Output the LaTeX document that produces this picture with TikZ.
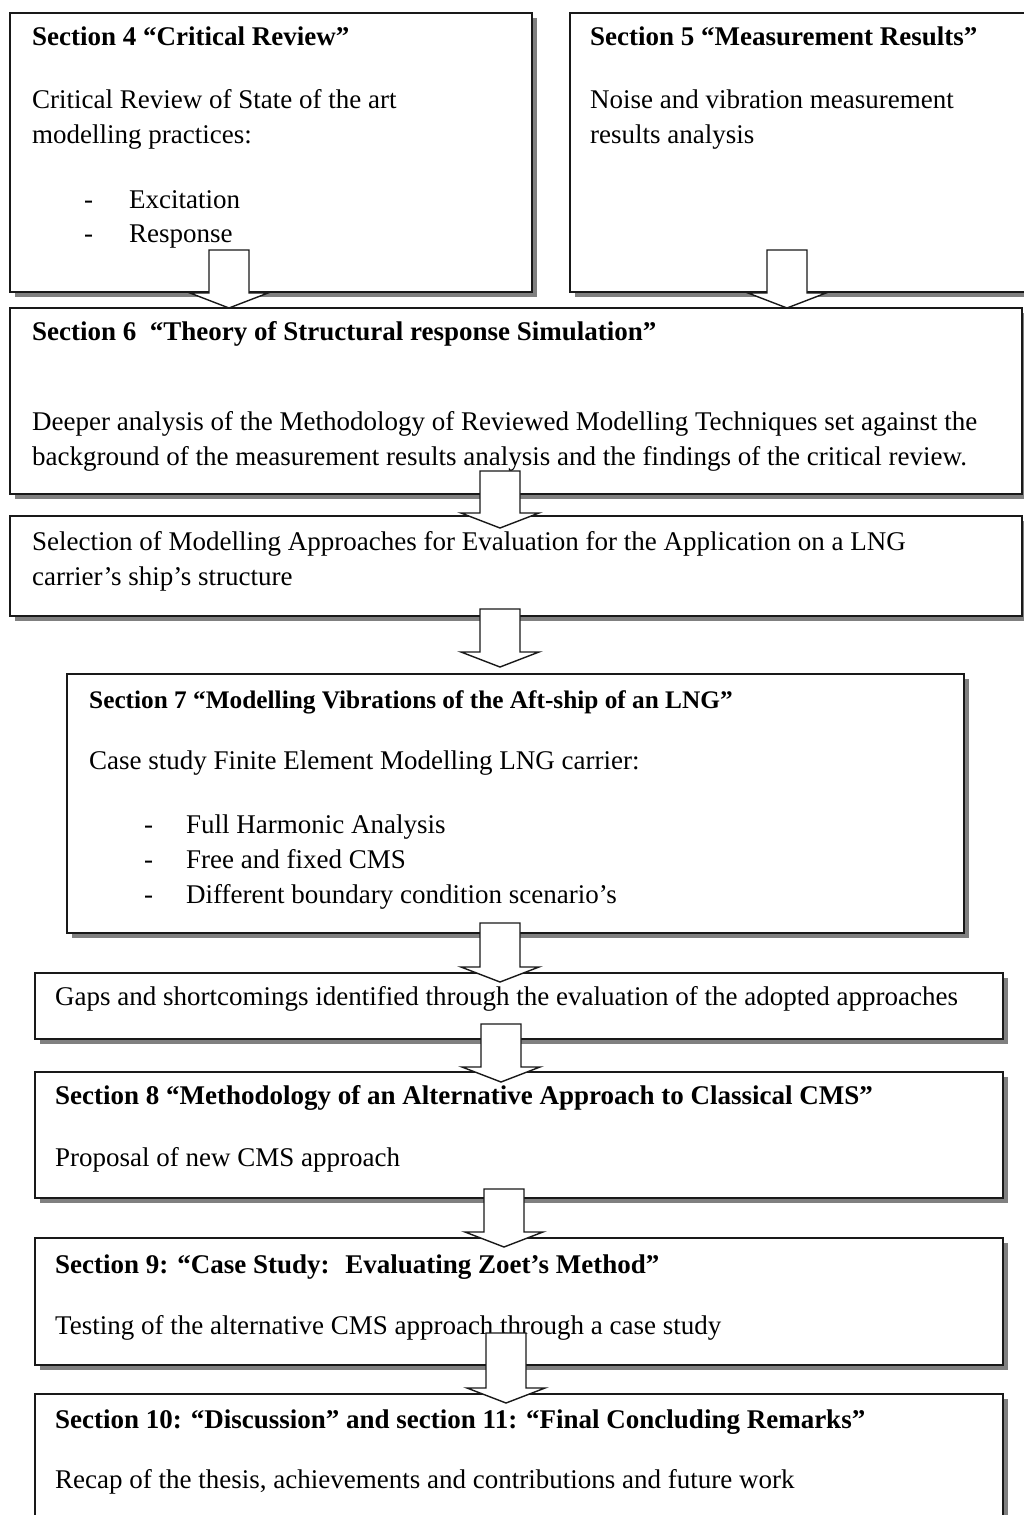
\documentclass[tikz,border=0pt]{standalone}
\usepackage{fontspec}
\setmainfont{Liberation Serif}
\usetikzlibrary{shadows,calc}
\begin{document}
\begin{tikzpicture}[x=1pt,y=-1pt,
  box/.style={draw=black!90, line width=1.6pt, fill=white, anchor=north west, inner sep=0pt,
    drop shadow={shadow xshift=5pt, shadow yshift=-5pt, fill=black!50, opacity=1}},
  txt/.style={anchor=base west, inner sep=0pt, font=\fontsize{27}{35}\selectfont},
  hd/.style={anchor=base west, inner sep=0pt, font=\fontsize{27}{35}\selectfont\bfseries},
  hdsmall/.style={anchor=base west, inner sep=0pt, font=\fontsize{25.3}{30}\selectfont\bfseries},
  blockarrow/.style={draw=black!90, line width=1.4pt, fill=white, line join=miter,
    to path={let \p1=(\tikztostart), \p2=(\tikztotarget) in
      (\x1-20pt,\y1) -- (\x1+20pt,\y1) -- (\x1+20pt,\y2+15pt) -- (\x1+39pt,\y2+15pt)
      -- (\x2,\y2) -- (\x1-39pt,\y2+15pt) -- (\x1-20pt,\y2+15pt) -- cycle}}
]
\fill[white] (0,0) rectangle (1023,1515);
\useasboundingbox (0,0) rectangle (1023,1515);

% boxes
\node[box, minimum width=522pt, minimum height=279pt] (b1) at (9,12) {};
\node[box, minimum width=462pt, minimum height=279pt] (b2) at (569,12) {};
\node[box, minimum width=1012pt, minimum height=186pt] (b3) at (9,307) {};
\node[box, minimum width=1012pt, minimum height=100pt] (b4) at (9,515) {};
\node[box, minimum width=897pt, minimum height=259pt] (b5) at (66,673) {};
\node[box, minimum width=968pt, minimum height=66pt] (b6) at (34,972) {};
\node[box, minimum width=968pt, minimum height=126pt] (b7) at (34,1071) {};
\node[box, minimum width=968pt, minimum height=127pt] (b8) at (34,1237) {};
\node[box, minimum width=968pt, minimum height=140pt] (b9) at (34,1393) {};

% texts
\node[hd] (t1h) at (32,45) {Section 4 “Critical Review”};
\node[txt] (t1a) at (32,108) {Critical Review of State of the art};
\node[txt] (t1b) at (32,143) {modelling practices:};
\node[txt] (t1c) at (84,208) {-};
\node[txt] (t1d) at (129,208) {Excitation};
\node[txt] (t1e) at (84,242) {-};
\node[txt] (t1f) at (129,242) {Response};

\node[hd] (t2h) at (590,45) {Section 5 “Measurement Results”};
\node[txt] (t2a) at (590,108) {Noise and vibration measurement};
\node[txt] (t2b) at (590,143) {results analysis};

\node[hd] (t3h) at (32,340) {Section 6 \ “Theory of Structural response Simulation”};
\node[txt] (t3a) at (32,430) {Deeper analysis of the Methodology of Reviewed Modelling Techniques set against the};
\node[txt] (t3b) at (32,465) {background of the measurement results analysis and the findings of the critical review.};

\node[txt] (t4a) at (32,550) {Selection of Modelling Approaches for Evaluation for the Application on a LNG};
\node[txt] (t4b) at (32,585) {carrier’s ship’s structure};

\node[hdsmall] (t5h) at (89,708) {Section 7 “Modelling Vibrations of the Aft-ship of an LNG”};
\node[txt] (t5a) at (89,769) {Case study Finite Element Modelling LNG carrier:};
\node[txt] (t5b) at (144,833) {-};
\node[txt] (t5c) at (186,833) {Full Harmonic Analysis};
\node[txt] (t5d) at (144,868) {-};
\node[txt] (t5e) at (186,868) {Free and fixed CMS};
\node[txt] (t5f) at (144,903) {-};
\node[txt] (t5g) at (186,903) {Different boundary condition scenario’s};

\node[txt] (t6a) at (55,1005) {Gaps and shortcomings identified through the evaluation of the adopted approaches};

\node[hd] (t7h) at (55,1104) {Section 8 “Methodology of an Alternative Approach to Classical CMS”};
\node[txt] (t7a) at (55,1166) {Proposal of new CMS approach};

\node[hd] (t8h) at (55,1273) {Section 9: “Case Study: \ Evaluating Zoet’s Method”};
\node[txt] (t8a) at (55,1334) {Testing of the alternative CMS approach through a case study};

\node[hd] (t9h) at (55,1428) {Section 10: “Discussion” and section 11: “Final Concluding Remarks”};
\node[txt] (t9a) at (55,1488) {Recap of the thesis, achievements and contributions and future work};

% block arrows
\coordinate (a1s) at (229,250);  \coordinate (a1e) at (229,308);
\coordinate (a2s) at (787,250);  \coordinate (a2e) at (787,308);
\coordinate (a3s) at (500,471);  \coordinate (a3e) at (500,528);
\coordinate (a4s) at (500,609);  \coordinate (a4e) at (500,667);
\coordinate (a5s) at (500,923);  \coordinate (a5e) at (500,982);
\coordinate (a6s) at (501,1024); \coordinate (a6e) at (501,1082);
\coordinate (a7s) at (504,1189); \coordinate (a7e) at (504,1247);
\coordinate (a8s) at (506,1333); \coordinate (a8e) at (506,1403);
\draw[blockarrow] (a1s) to (a1e);
\draw[blockarrow] (a2s) to (a2e);
\draw[blockarrow] (a3s) to (a3e);
\draw[blockarrow] (a4s) to (a4e);
\draw[blockarrow] (a5s) to (a5e);
\draw[blockarrow] (a6s) to (a6e);
\draw[blockarrow] (a7s) to (a7e);
\draw[blockarrow] (a8s) to (a8e);
\end{tikzpicture}
\end{document}
